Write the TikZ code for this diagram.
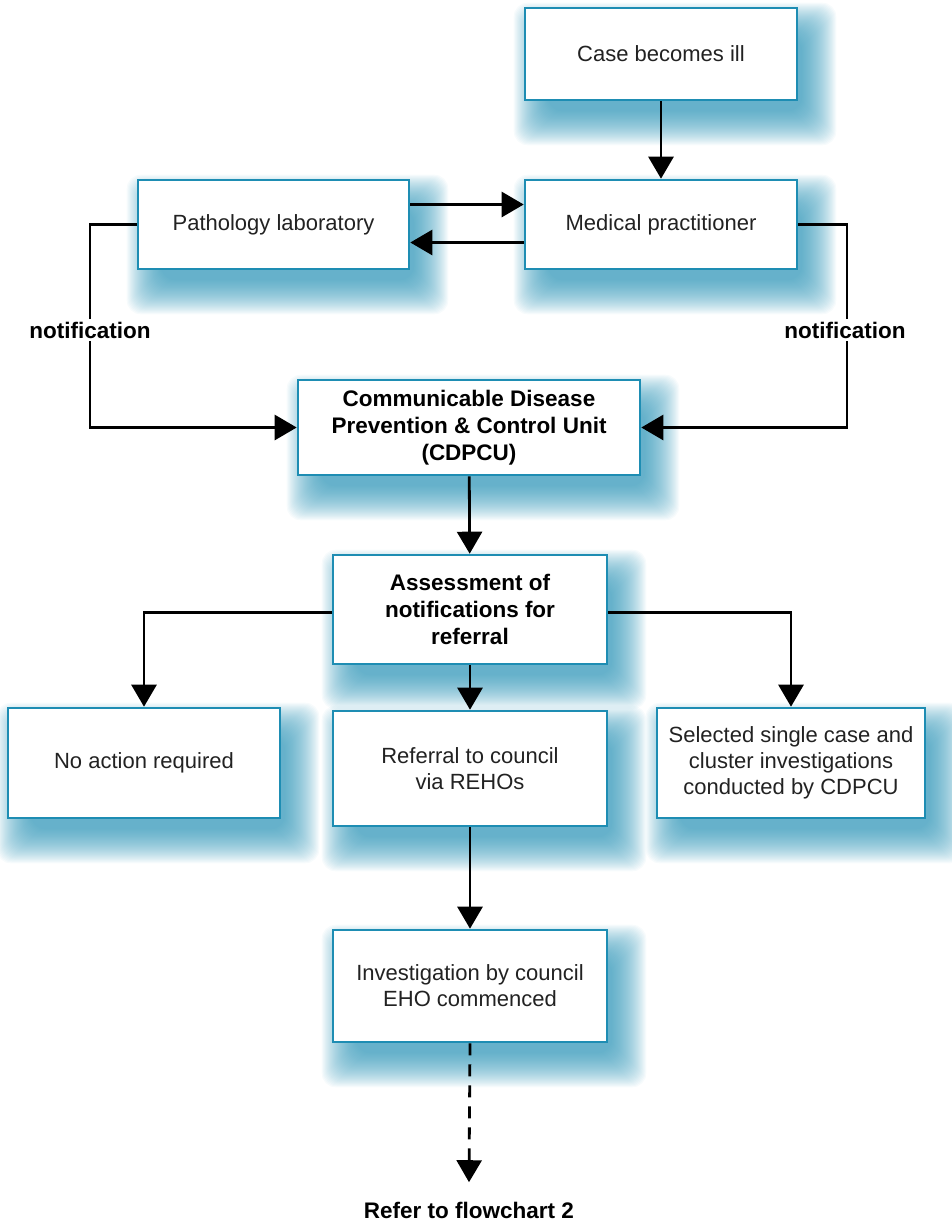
\documentclass[tikz,border=0pt]{standalone}
\usepackage{fontspec}
\setmainfont{Liberation Sans}
\usetikzlibrary{arrows.meta,backgrounds}
\definecolor{boxedge}{HTML}{1E8DB3}
\definecolor{shadowc}{HTML}{2A93B6}
\definecolor{txt}{HTML}{222222}
\newcommand{\softshadow}[1]{%
  \foreach \e in {24,23,...,-10}{%
    \fill[shadowc,opacity=0.036,rounded corners=14pt]
      ([xshift=14pt-\e pt,yshift=-20pt-\e pt]#1.south west) rectangle
      ([xshift=14pt+\e pt,yshift=-20pt+\e pt]#1.north east);
  }%
}
\tikzset{
  box/.style={draw=boxedge,line width=2.6pt,fill=white,align=center,inner sep=0pt,
    text=txt,font=\fontsize{22}{26}\selectfont},
  boldbox/.style={box,text=black,font=\fontsize{22.5}{27}\selectfont\bfseries},
  conn/.style={line width=2.8pt,draw=black},
  arr/.style={conn,-{Triangle[width=25pt,length=22pt]}},
  lbl/.style={font=\fontsize{22.5}{27}\selectfont\bfseries,fill=white,inner sep=3pt}
}
\begin{document}
\begin{tikzpicture}[x=1pt,y=-1pt]
\useasboundingbox (0,0) rectangle (951,1229);
% boxes
\node[box,minimum width=272pt,minimum height=92pt] (case) at (661,54) {Case becomes ill};
\node[box,minimum width=272pt,minimum height=89pt] (med) at (661,224.5) {Medical practitioner};
\node[box,minimum width=271pt,minimum height=89pt] (path) at (273.5,224.5) {Pathology laboratory};
\node[boldbox,minimum width=342pt,minimum height=95pt] (cdpcu) at (469,427.5) {Communicable Disease\\Prevention \& Control Unit\\(CDPCU)};
\node[boldbox,minimum width=274pt,minimum height=109pt] (assess) at (470,609.5) {Assessment of\\notifications for\\referral};
\node[box,minimum width=272pt,minimum height=110pt] (noact) at (144,763) {No action required};
\node[box,minimum width=274pt,minimum height=115pt] (refer) at (470,768.5) {Referral to council\\via REHOs};
\node[box,minimum width=268pt,minimum height=110pt] (sel) at (791,763) {Selected single case and\\cluster investigations\\conducted by CDPCU};
\node[box,minimum width=274pt,minimum height=112pt] (inv) at (470,986) {Investigation by council\\EHO commenced};
\node[font=\fontsize{22.5}{27}\selectfont\bfseries] (flow2) at (469,1210) {Refer to flowchart 2};
% shadows
\begin{pgfonlayer}{background}
\foreach \n in {case,med,path,cdpcu,assess,noact,refer,sel,inv}{\softshadow{\n}}
\end{pgfonlayer}
% connectors
\draw[arr] (case) -- (med);
\draw[arr] ([yshift=20pt]path.east) -- ([yshift=20pt]med.west);
\draw[arr] ([yshift=-18pt]med.west) -- ([yshift=-18pt]path.east);
\coordinate (lx) at (90,0);
\coordinate (rx) at (847,0);
\draw[arr] (path.west) -| (lx |- cdpcu.west) -- (cdpcu.west);
\draw[arr] (med.east) -| (rx |- cdpcu.east) -- (cdpcu.east);
\node[lbl] (nl) at (90,330) {notification};
\node[lbl] (nr) at (845,330) {notification};
\draw[arr] (cdpcu) -- (assess);
\draw[arr] ([yshift=-3pt]assess.west) -| (noact.north);
\draw[arr] ([yshift=-3pt]assess.east) -| (sel.north);
\draw[arr] (assess) -- (refer);
\draw[arr] (refer) -- (inv);
\draw[arr,dash pattern=on 12pt off 9pt] (inv.south) -- ([yshift=16pt]flow2.north);
\end{tikzpicture}
\end{document}
